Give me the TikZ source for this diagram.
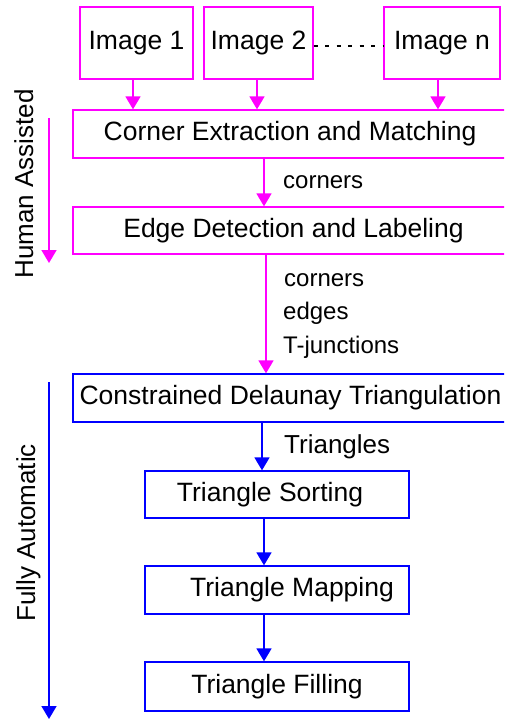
\documentclass[tikz,border=0pt]{standalone}
\usepackage{fontspec}
\setmainfont{Liberation Sans}
\usetikzlibrary{arrows.meta}
\definecolor{mag}{RGB}{255,0,255}
\definecolor{blu}{RGB}{0,0,255}
\tikzset{
  box/.style={draw, rectangle, line width=1.3pt, inner sep=2pt, font=\fontsize{26.5}{30}\selectfont, text=black},
  mbox/.style={box, draw=mag},
  bbox/.style={box, draw=blu},
  arr/.style={line width=1.7pt, -{Triangle[width=15pt,length=13pt]}},
  marr/.style={arr, draw=mag, fill=mag},
  barr/.style={arr, draw=blu, fill=blu},
  lbl/.style={anchor=base west, inner sep=0pt, font=\fontsize{24}{28}\selectfont},
  side/.style={anchor=base, rotate=90, inner sep=0pt, font=\fontsize{26}{30}\selectfont},
  dotline/.style={line width=1.6pt, dash pattern=on 4pt off 7.5pt}
}
\begin{document}
\begin{tikzpicture}[x=1pt, y=-1pt]
\path[use as bounding box] (0,0) rectangle (504,721);
\clip (0,0) rectangle (504,721);

% image boxes
\node[mbox, minimum width=113pt, minimum height=72pt] (img1) at (136.5,43) {Image 1};
\node[mbox, minimum width=109pt, minimum height=72pt] (img2) at (258.5,43) {\raisebox{-3pt}{Image 2}};
\node[mbox, minimum width=116pt, minimum height=72pt] (imgn) at (442,43) {Image n};
\draw[dotline] ([yshift=-3pt]img2.east) -- ([yshift=-3pt]imgn.west);

% human assisted stages
\node[mbox, minimum width=445pt, minimum height=48pt] (cem) at (295.5,134) {Corner Extraction and Matching\hspace*{11pt}};
\node[mbox, minimum width=445pt, minimum height=47pt] (edl) at (295.5,230.5) {Edge Detection and Labeling\hspace*{4pt}};

% automatic stages
\node[bbox, minimum width=445pt, minimum height=48pt] (cdt) at (295.5,398) {Constrained Delaunay Triangulation\hspace*{10pt}};
\node[bbox, minimum width=264pt, minimum height=47pt] (ts) at (277,494.5) {Triangle Sorting\hspace*{14pt}};
\node[bbox, minimum width=264pt, minimum height=48pt] (tm) at (277,590) {\hspace*{30pt}Triangle Mapping};
\node[bbox, minimum width=264pt, minimum height=49pt] (tf) at (277,686.5) {Triangle Filling};

% connectors
\draw[marr] ([xshift=-3.5pt]img1.south) -- ([xshift=-3.5pt]img1.south |- cem.north);
\draw[marr] ([xshift=-1.5pt]img2.south) -- ([xshift=-1.5pt]img2.south |- cem.north);
\draw[marr] ([xshift=-4pt]imgn.south) -- ([xshift=-4pt]imgn.south |- cem.north);
\draw[marr] ([xshift=-31.5pt]cem.south) -- ([xshift=-31.5pt]cem.south |- edl.north);
\draw[marr] ([xshift=-29.5pt]edl.south) -- ([xshift=-29.5pt]edl.south |- cdt.north);
\draw[barr] ([xshift=-15pt]ts.north |- cdt.south) -- ([xshift=-15pt]ts.north);
\draw[barr] ([xshift=-13pt]ts.south) -- ([xshift=-13pt]tm.north);
\draw[barr] ([xshift=-13pt]tm.south) -- ([xshift=-13pt]tf.north);

% connector labels
\node[lbl] (l1) at (283,188) {corners};
\node[lbl] (l2) at (284,286) {corners};
\node[lbl] (l3) at (283,319) {edges};
\node[lbl] (l4) at (283,353) {T-junctions};
\node[lbl, font=\fontsize{26}{30}\selectfont] (l5) at (284,453) {Triangles};

% side arrows
\coordinate (hs) at (49,118);
\coordinate (he) at (49,263);
\coordinate (fs) at (49,382);
\coordinate (fe) at (49,719);
\draw[marr] (hs) -- (he);
\draw[barr] (fs) -- (fe);
\node[side] (ha) at (33,184) {Human Assisted};
\node[side] (fa) at (35,533) {Fully Automatic};
\end{tikzpicture}
\end{document}
